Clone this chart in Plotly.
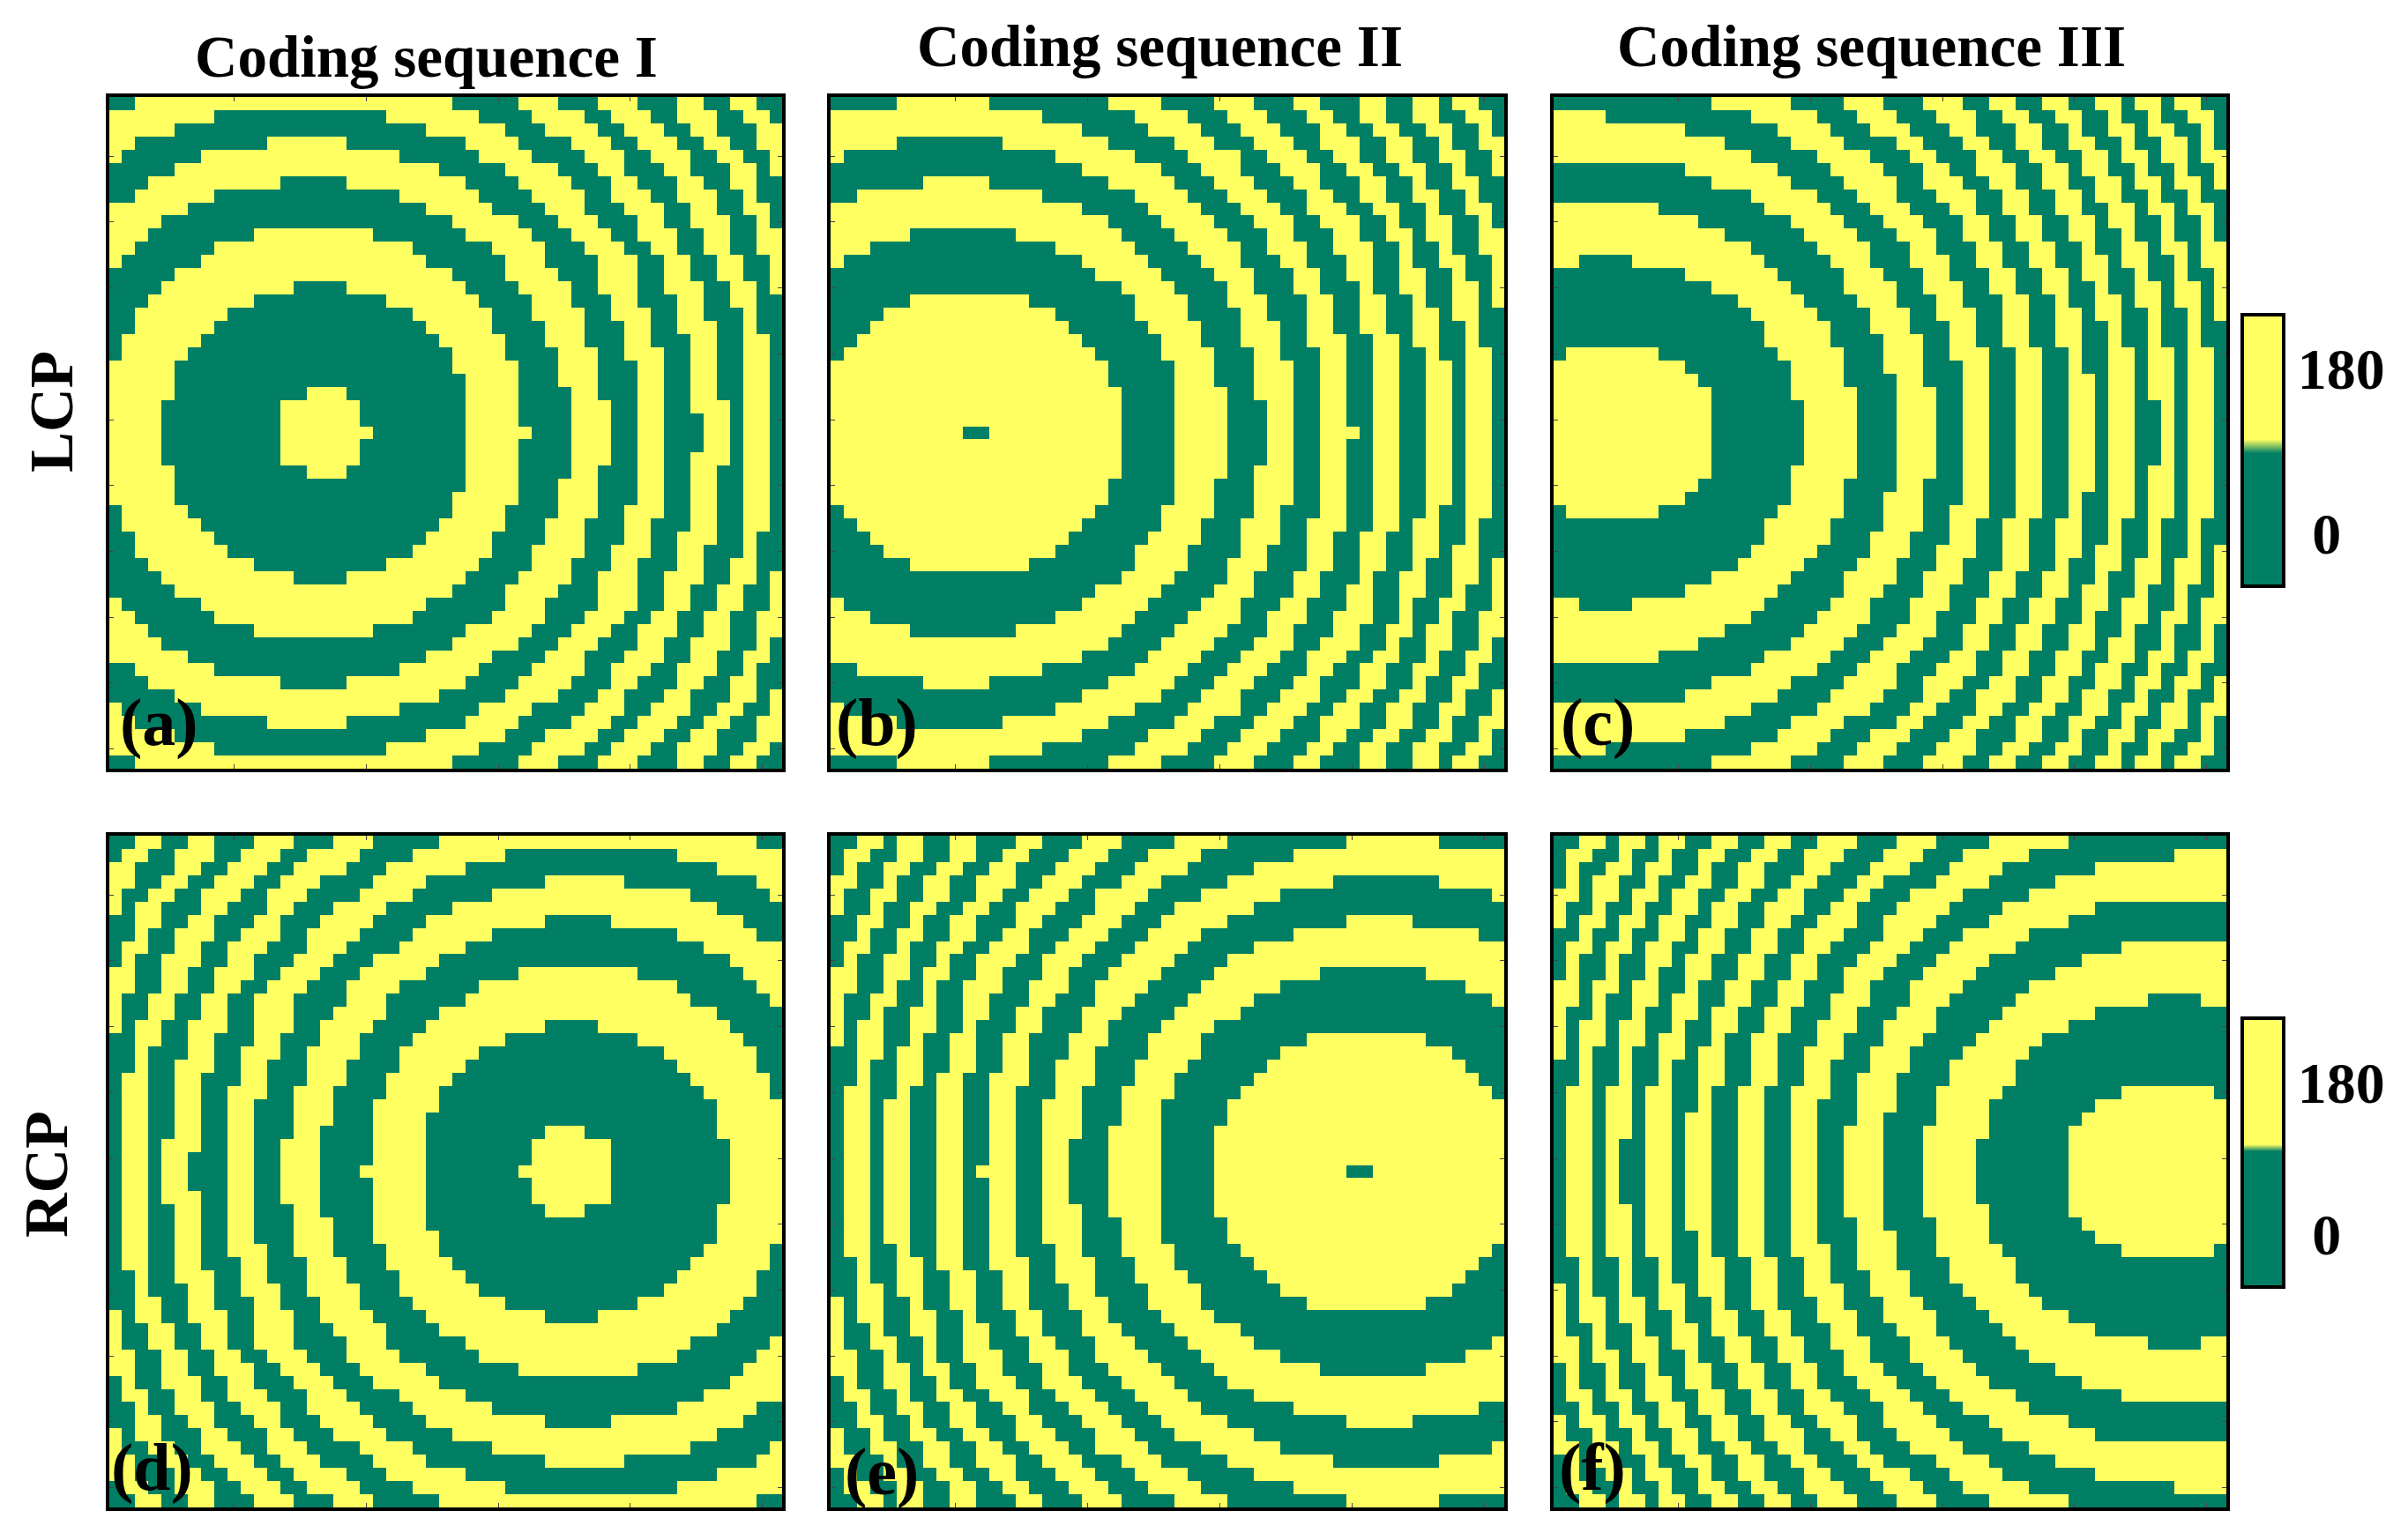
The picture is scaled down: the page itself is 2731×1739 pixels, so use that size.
import numpy as np
import plotly.graph_objects as go

# Each panel is 51x51 cells, read row by row from the top down to the middle row.
# Every row lists the columns where the colour flips, starting from green at column 0.
lcp_a_flips = [
    [2, 26, 31, 34, 37, 40, 43, 45, 47, 49],
    [0, 8, 21, 28, 32, 36, 38, 41, 43, 46, 48, 50],
    [0, 5, 24, 30, 33, 37, 39, 42, 44, 46, 49],
    [0, 2, 12, 18, 27, 31, 35, 38, 40, 43, 45, 47, 49],
    [0, 1, 7, 22, 28, 32, 36, 39, 41, 44, 46, 48, 50],
    [5, 25, 30, 34, 37, 39, 42, 44, 47, 49, 50],
    [3, 13, 18, 27, 31, 35, 38, 40, 43, 45, 47, 49],
    [2, 8, 22, 28, 32, 36, 38, 41, 43, 46, 48, 49],
    [0, 6, 24, 29, 33, 36, 39, 42, 44, 46, 48, 50],
    [0, 4, 26, 31, 34, 37, 40, 42, 44, 47, 49, 50],
    [0, 3, 11, 20, 27, 32, 35, 38, 40, 43, 45, 47, 49],
    [0, 2, 8, 23, 29, 33, 36, 39, 41, 43, 45, 47, 49],
    [0, 1, 7, 24, 30, 33, 37, 40, 42, 44, 46, 48, 50],
    [5, 26, 30, 34, 37, 40, 42, 44, 46, 48, 50],
    [4, 14, 18, 27, 31, 35, 37, 40, 42, 45, 47, 49, 50],
    [3, 11, 21, 28, 32, 35, 38, 40, 43, 45, 47, 49],
    [2, 9, 23, 29, 32, 36, 38, 41, 43, 45, 48, 49],
    [2, 8, 24, 29, 33, 36, 39, 41, 43, 46, 48, 49],
    [1, 7, 25, 30, 33, 36, 39, 41, 44, 46, 48, 50],
    [1, 6, 26, 30, 34, 37, 39, 42, 44, 46, 48, 50],
    [0, 5, 26, 31, 34, 37, 40, 42, 44, 46, 48, 50],
    [0, 5, 27, 31, 34, 37, 40, 42, 44, 46, 48, 50],
    [0, 5, 15, 18, 27, 31, 35, 37, 40, 42, 44, 46, 48, 50],
    [0, 4, 13, 19, 27, 31, 35, 38, 40, 42, 44, 47, 48, 50],
    [0, 4, 13, 19, 27, 31, 35, 38, 40, 42, 45, 47, 48, 50],
    [0, 4, 13, 20, 27, 32, 35, 38, 40, 42, 45, 47, 48, 50],
]
lcp_b_flips = [
    [5, 12, 21, 25, 29, 32, 35, 37, 40, 42, 44, 46, 47, 49],
    [0, 16, 23, 27, 30, 33, 36, 38, 40, 42, 44, 46, 48, 50],
    [0, 19, 24, 28, 31, 34, 37, 39, 41, 43, 45, 47, 49, 50],
    [0, 5, 13, 21, 26, 29, 32, 35, 37, 40, 42, 44, 46, 47, 49],
    [0, 1, 17, 23, 27, 31, 33, 36, 38, 40, 42, 44, 46, 48, 50],
    [19, 25, 28, 31, 34, 37, 39, 41, 43, 45, 47, 48, 50],
    [7, 12, 21, 26, 29, 32, 35, 37, 40, 42, 44, 45, 47, 49],
    [2, 16, 23, 27, 30, 33, 36, 38, 40, 42, 44, 46, 48, 49],
    [0, 19, 24, 28, 31, 34, 36, 39, 41, 43, 45, 46, 48, 50],
    [0, 21, 25, 29, 32, 35, 37, 40, 42, 43, 45, 47, 49, 50],
    [0, 6, 14, 22, 26, 30, 33, 35, 38, 40, 42, 44, 45, 47, 49],
    [0, 3, 17, 23, 27, 31, 33, 36, 38, 41, 43, 44, 46, 47, 49],
    [0, 1, 19, 24, 28, 31, 34, 36, 39, 41, 43, 44, 46, 48, 50],
    [20, 25, 29, 32, 35, 37, 39, 41, 43, 45, 47, 48, 50],
    [22, 26, 30, 32, 35, 37, 40, 41, 43, 45, 47, 49, 50],
    [6, 15, 23, 27, 30, 33, 36, 38, 40, 42, 44, 45, 47, 49, 50],
    [4, 17, 23, 27, 31, 33, 36, 38, 40, 42, 44, 46, 47, 49],
    [3, 18, 24, 28, 31, 34, 36, 38, 40, 42, 44, 46, 48, 49],
    [2, 19, 25, 28, 31, 34, 36, 39, 41, 43, 44, 46, 48, 49],
    [1, 20, 25, 29, 32, 34, 37, 39, 41, 43, 45, 46, 48, 50],
    [0, 21, 26, 29, 32, 35, 37, 39, 41, 43, 45, 47, 48, 50],
    [0, 21, 26, 29, 32, 35, 37, 39, 41, 43, 45, 47, 48, 50],
    [0, 22, 26, 30, 32, 35, 37, 39, 41, 43, 45, 47, 48, 50],
    [0, 22, 26, 30, 33, 35, 37, 39, 41, 43, 45, 47, 48, 50],
    [0, 22, 26, 30, 33, 35, 37, 39, 41, 43, 45, 47, 48, 50],
    [0, 10, 12, 22, 26, 30, 33, 35, 37, 40, 41, 43, 45, 47, 48, 50],
]
lcp_c_flips = [
    [12, 18, 22, 25, 28, 31, 33, 35, 37, 39, 41, 43, 44, 46, 47, 49],
    [0, 4, 15, 20, 23, 26, 29, 32, 34, 36, 38, 40, 42, 43, 45, 46, 48, 50],
    [0, 10, 17, 21, 24, 27, 30, 32, 35, 37, 39, 40, 42, 44, 45, 47, 49, 50],
    [0, 13, 18, 22, 26, 28, 31, 33, 35, 37, 39, 41, 43, 44, 46, 48, 49, 50],
    [0, 15, 20, 24, 27, 29, 32, 34, 36, 38, 40, 42, 43, 45, 46, 48, 49],
    [10, 17, 21, 25, 28, 30, 32, 35, 37, 39, 40, 42, 44, 45, 47, 48, 50],
    [12, 18, 22, 26, 28, 31, 33, 35, 37, 39, 41, 43, 44, 46, 47, 49, 50],
    [15, 20, 23, 26, 29, 32, 34, 36, 38, 40, 41, 43, 45, 46, 48, 49],
    [0, 8, 16, 21, 24, 27, 30, 32, 34, 36, 38, 40, 42, 44, 45, 47, 48, 50],
    [0, 11, 18, 22, 25, 28, 31, 33, 35, 37, 39, 41, 42, 44, 46, 47, 49, 50],
    [0, 13, 19, 23, 26, 29, 31, 33, 35, 37, 39, 41, 43, 44, 46, 47, 49, 50],
    [0, 15, 20, 24, 27, 29, 32, 34, 36, 38, 40, 41, 43, 45, 46, 48, 49],
    [0, 2, 6, 16, 21, 24, 27, 30, 32, 34, 36, 38, 40, 42, 43, 45, 47, 48, 49],
    [10, 17, 22, 25, 28, 30, 33, 35, 37, 39, 40, 42, 44, 45, 47, 48, 50],
    [12, 18, 22, 26, 28, 31, 33, 35, 37, 39, 41, 42, 44, 46, 47, 49, 50],
    [14, 19, 23, 26, 29, 31, 34, 36, 38, 39, 41, 43, 44, 46, 47, 49, 50],
    [15, 20, 24, 27, 29, 32, 34, 36, 38, 40, 41, 43, 45, 46, 48, 49, 50],
    [16, 21, 24, 27, 30, 32, 34, 36, 38, 40, 42, 43, 45, 46, 48, 49],
    [16, 21, 25, 28, 30, 32, 34, 36, 38, 40, 42, 43, 45, 46, 48, 49],
    [1, 8, 17, 22, 25, 28, 30, 33, 35, 37, 39, 40, 42, 44, 45, 47, 48, 50],
    [0, 10, 18, 22, 25, 28, 31, 33, 35, 37, 39, 40, 42, 44, 45, 47, 48, 50],
    [0, 11, 18, 22, 26, 28, 31, 33, 35, 37, 39, 41, 42, 44, 45, 47, 48, 50],
    [0, 12, 18, 23, 26, 29, 31, 33, 35, 37, 39, 41, 42, 44, 45, 47, 48, 50],
    [0, 12, 19, 23, 26, 29, 31, 33, 35, 37, 39, 41, 42, 44, 46, 47, 48, 50],
    [0, 12, 19, 23, 26, 29, 31, 33, 35, 37, 39, 41, 42, 44, 46, 47, 48, 50],
    [0, 12, 19, 23, 26, 29, 31, 33, 35, 37, 39, 41, 42, 44, 46, 47, 48, 50],
]

column_titles = ["Coding sequence I", "Coding sequence II", "Coding sequence III"]
row_labels = ["LCP", "RCP"]
panel_letters = ["(a)", "(b)", "(c)", "(d)", "(e)", "(f)"]
colorbar_ticks = [0, 180]
colorbar_ticktext = ["\u00a00", "180"]

GREEN = "#007F64"
YELLOW = "#FFFF62"
SERIF = "Liberation Serif"
W, H = 2731, 1739
N = 51


def px(x):
    return x / W


def py(y):
    return 1 - y / H


def expand(flips):
    """Turn the flip columns of the rows above into a full phase matrix"""
    half = []
    for row in flips:
        cells = np.zeros(N)
        for col in row:
            cells[col:] = 180 - cells[col:]
        half.append(cells)
    half = np.array(half)
    # the pictures are mirror images about the middle row
    return np.vstack([half, half[-2::-1]])


lcp = [expand(lcp_a_flips), expand(lcp_b_flips), expand(lcp_c_flips)]
# the RCP row is the LCP row flipped left to right
phases = lcp + [np.fliplr(m) for m in lcp]

x_domains = [(123.5, 887), (941.5, 1706), (1761.5, 2525)]
y_domains = [(110, 872), (948, 1710)]
cells = np.arange(1, N + 1)

fig = go.Figure()
for i, z in enumerate(phases):
    n = i + 1
    x0, x1 = x_domains[i % 3]
    y0, y1 = y_domains[i // 3]
    fig.add_trace(go.Heatmap(
        z=z, x=cells, y=cells,
        xaxis=f"x{n}", yaxis=f"y{n}",
        coloraxis="coloraxis" if i < 3 else "coloraxis2",
        hoverinfo="skip",
    ))
    axis = dict(
        range=[0.5, 51.5], showgrid=False, zeroline=False, showticklabels=False,
        ticks="inside", ticklen=5, tickwidth=1, tickcolor="#444",
        showline=True, mirror="ticks", linecolor="black", linewidth=4,
    )
    fig.update_layout({
        f"xaxis{n}": dict(axis, domain=[px(x0), px(x1)], anchor=f"y{n}", tick0=10, dtick=10),
        f"yaxis{n}": dict(axis, domain=[py(y1), py(y0)], anchor=f"x{n}", tick0=5, dtick=5,
                          range=[51.5, 0.5]),
    })


def label(text, x, y, size, angle=0):
    fig.add_annotation(
        text=text, x=px(x), y=py(y), xref="paper", yref="paper", showarrow=False,
        textangle=angle, xanchor="center", yanchor="middle",
        font=dict(family=SERIF, size=size, color="black", weight=700),
    )


for text, x, y in zip(column_titles, [484, 1315, 2122], [64, 52, 52]):
    label(text, x, y, 67)
label(row_labels[0], 59, 467, 69, angle=-90)
label(row_labels[1], 52, 1332, 70, angle=-90)
letter_xy = [(180, 819), (995, 819), (1812, 819), (172, 1664), (1000, 1669), (1806, 1664)]
for text, (x, y) in zip(panel_letters, letter_xy):
    label(text, x, y, 76)


def colorbar(top, bottom):
    return dict(
        x=px(2543), xanchor="left", xpad=0, ypad=0,
        y=py(top), yanchor="top", lenmode="pixels", len=bottom - top,
        thicknessmode="pixels", thickness=47,
        outlinecolor="black", outlinewidth=4,
        tickmode="array", tickvals=colorbar_ticks, ticktext=colorbar_ticktext,
        ticks="outside", ticklen=1, tickcolor="rgba(0,0,0,0)",
        tickfont=dict(family=SERIF, size=66, color="black", weight=700),
    )


fig.update_layout(
    width=W, height=H,
    margin=dict(l=0, r=0, t=0, b=0),
    paper_bgcolor="white",
    plot_bgcolor="white",
    coloraxis=dict(
        cmin=-58, cmax=239,
        colorscale=[[0, GREEN], [0.49, GREEN], [0.54, YELLOW], [1, YELLOW]],
        colorbar=colorbar(357, 665),
    ),
    coloraxis2=dict(
        cmin=-63, cmax=256,
        colorscale=[[0, GREEN], [0.505, GREEN], [0.53, YELLOW], [1, YELLOW]],
        colorbar=colorbar(1155, 1460),
    ),
)

# the page's default body margin would push the figure 8 px down and right
fig.write_html(
    "out.html",
    config={"displayModeBar": False},
    post_script="document.body.style.margin = '0';",
)
